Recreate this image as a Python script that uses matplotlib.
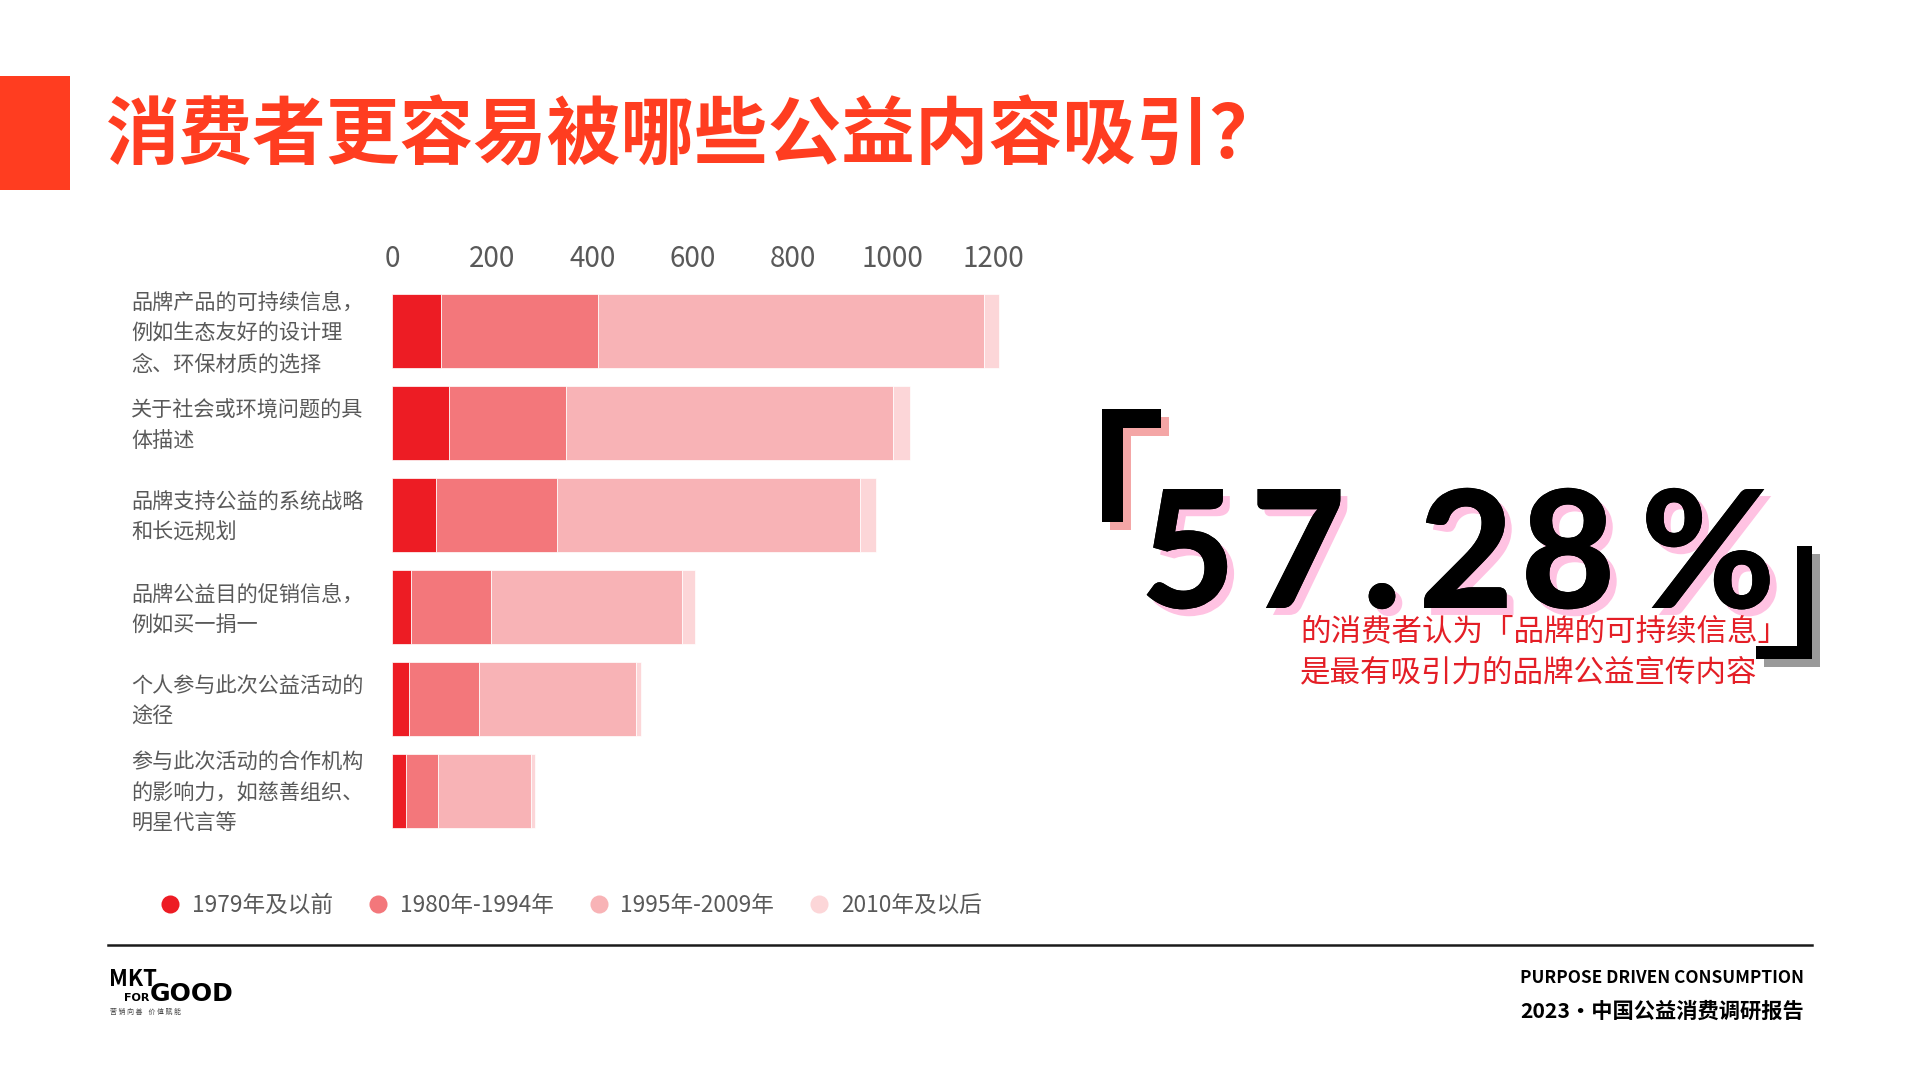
"""
Recreate slide: 消费者更容易被哪些公益内容吸引？ (stacked horizontal bars by birth cohort)
"""

import matplotlib
matplotlib.use('Agg')
import matplotlib.pyplot as plt
import matplotlib.patheffects as pe
from matplotlib.lines import Line2D
from matplotlib.patches import Rectangle

plt.rcParams['font.family'] = ['Noto Sans CJK SC', 'DejaVu Sans']

# ── Data ───────────────────────────────────────────────────────────────────────
categories = [
    "品牌产品的可持续信息，\n例如生态友好的设计理\n念、环保材质的选择",
    "关于社会或环境问题的具\n体描述",
    "品牌支持公益的系统战略\n和长远规划",
    "品牌公益目的促销信息，\n例如买一捐一",
    "个人参与此次公益活动的\n途径",
    "参与此次活动的合作机构\n的影响力，如慈善组织、\n明星代言等",
]
series_names = ["1979年及以前", "1980年-1994年", "1995年-2009年", "2010年及以后"]
s1979 = [97, 113, 87, 37, 33, 27]
s1980 = [314, 234, 242, 160, 141, 65]
s1995 = [772, 654, 606, 382, 313, 185]
s2010 = [30, 34, 31, 27, 10, 9]
x_ticks = [0, 200, 400, 600, 800, 1000, 1200]

headline = "消费者更容易被哪些公益内容吸引？"
big_number = "57.28%"
note = "的消费者认为「品牌的可持续信息」\n是最有吸引力的品牌公益宣传内容"

COLORS = ['#ED1C24', '#F3777B', '#F8B3B6', '#FCD6D8']
RED = '#FF3D20'
GRAY = '#595959'

W, H = 1920, 1080


def fx(x):
    return x / W


def fy(y):
    return 1 - y / H


fig = plt.figure(figsize=(19.2, 10.8), dpi=100)
fig.patch.set_facecolor('white')

# ── Header ─────────────────────────────────────────────────────────────────────
fig.add_artist(Rectangle((0, fy(190)), fx(70), (190 - 76) / H,
                         transform=fig.transFigure, color=RED, lw=0))
fig.text(fx(106), fy(137), headline, fontsize=53, fontweight='black',
         color=RED, ha='left', va='center')

# ── Bars ───────────────────────────────────────────────────────────────────────
ax = fig.add_axes([fx(392), 1 - 837 / H, 611 / W, 552 / H])
ypos = list(range(len(categories)))
left = [0] * len(categories)
for vals, col, name in zip([s1979, s1980, s1995, s2010], COLORS, series_names):
    ax.barh(ypos, vals, left=left, height=0.8, color=col,
            edgecolor='white', linewidth=0.5, label=name)
    left = [l + v for l, v in zip(left, vals)]

ax.set_xlim(0, 1220)
ax.set_ylim(len(categories) - 0.5, -0.5)
ax.xaxis.tick_top()
ax.set_xticks(x_ticks)
ax.tick_params(axis='x', length=0, pad=8, labelsize=20, labelcolor=GRAY)
ax.set_yticks([])
for sp in ax.spines.values():
    sp.set_visible(False)

for i, lab in enumerate(categories):
    ax.text((131 - 392) / 611, i + 0.03, lab, transform=ax.get_yaxis_transform(),
            ha='left', va='center', fontsize=15.2, color=GRAY, linespacing=1.5)

# ── Legend ─────────────────────────────────────────────────────────────────────
handles = [Line2D([], [], marker='o', ls='', markersize=13, color=c,
                  markeredgewidth=0) for c in COLORS]
fig.legend(handles, series_names, loc='center left',
           bbox_to_anchor=(fx(159), fy(905)), ncol=4, frameon=False,
           fontsize=16.3, labelcolor=GRAY, handlelength=1.0, handletextpad=0.45,
           columnspacing=1.5, borderpad=0, borderaxespad=0)

# ── Callout ────────────────────────────────────────────────────────────────────
def block(x0, y0, x1, y1, color):
    fig.add_artist(Rectangle((fx(x0), fy(y1)), (x1 - x0) / W, (y1 - y0) / H,
                             transform=fig.transFigure, color=color, lw=0))


# top-left bracket with pink shadow
for dx, col in [(8, '#F4A6A6'), (0, 'black')]:
    block(1102 + dx, 409 + dx, 1123 + dx, 522 + dx, col)
    block(1102 + dx, 409 + dx, 1161 + dx, 428 + dx, col)
# bottom-right bracket with gray shadow
for dx, col in [(8, '#9A9A9A'), (0, 'black')]:
    block(1797 + dx, 546 + dx, 1812 + dx, 659 + dx, col)
    block(1756 + dx, 646 + dx, 1812 + dx, 659 + dx, col)

# the big figure is letter-spaced widely, so each glyph gets its own slot
char_centers = [1188, 1298, 1382, 1466, 1568, 1708]
shadow = [pe.withSimplePatchShadow(offset=(5, -5), shadow_rgbFace='#FFC2E2', alpha=1.0),
          pe.Normal()]
for ch, cx in zip(big_number, char_centers):
    fig.text(fx(cx), fy(608), ch, fontsize=118, fontweight='black',
             family=['Lato', 'DejaVu Sans'], color='black', ha='center',
             va='baseline', path_effects=shadow)

fig.text(fx(1300), fy(652), note, fontsize=22, color='#E41E26', ha='left',
         va='center', linespacing=1.42, fontweight='light')

# ── Footer ─────────────────────────────────────────────────────────────────────
fig.add_artist(Line2D([fx(108), fx(1812)], [fy(945), fy(945)],
                      transform=fig.transFigure, color='#1a1a1a', lw=1.8))

fig.text(fx(109), fy(986), "MKT", fontsize=16, fontweight='heavy',
         ha='left', va='baseline', color='black')
fig.text(fx(124), fy(1001), "FOR", fontsize=8, fontweight='bold',
         family=['DejaVu Sans'], ha='left', va='baseline', color='black')
fig.text(fx(150), fy(1001), "GOOD", fontsize=18, fontweight='bold',
         family=['DejaVu Sans'], ha='left', va='baseline', color='black')
fig.text(fx(110), fy(1012), "营 销 向 善    价 值 赋 能", fontsize=5,
         ha='left', va='center', color='#444444')

fig.text(fx(1804), fy(978), "PURPOSE DRIVEN CONSUMPTION", fontsize=12.4,
         fontweight='bold', ha='right', va='center', color='black')
fig.text(fx(1804), fy(1011), "2023・中国公益消费调研报告", fontsize=15.3,
         fontweight='bold', ha='right', va='center', color='black')

fig.savefig('out.png', dpi=100, facecolor='white')
